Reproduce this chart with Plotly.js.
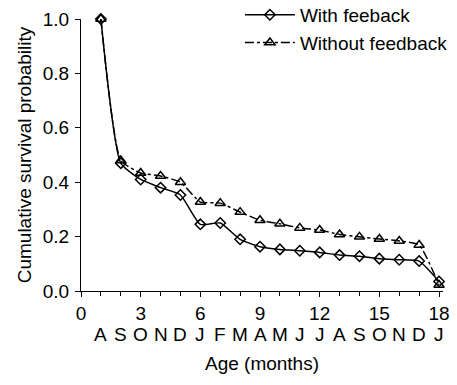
<!DOCTYPE html>
<html>
<head>
<meta charset="utf-8">
<script src="https://cdn.plot.ly/plotly-3.0.1.min.js"></script>
<style>html,body{margin:0;padding:0;background:#fff;}#chart{width:457px;height:385px;}</style>
</head>
<body>
<div id="chart"></div>
<script>
const ages = [1,2,3,4,5,6,7,8,9,10,11,12,13,14,15,16,17,18];
const withFeedback = [1.0,0.47,0.41,0.38,0.353,0.245,0.25,0.19,0.163,0.153,0.148,0.142,0.132,0.128,0.119,0.115,0.11,0.035];
const withoutFeedback = [1.0,0.48,0.434,0.423,0.40,0.327,0.323,0.29,0.26,0.247,0.232,0.224,0.208,0.199,0.191,0.184,0.169,0.022];
const ageTicks = [0,3,6,9,12,15,18];
const monthLetters = ["A","S","O","N","D","J","F","M","A","M","J","J","A","S","O","N","D","J"];
const yTicks = [0,0.2,0.4,0.6,0.8,1.0];

const font = {family: 'Liberation Sans, Arial, sans-serif', size: 19, color: '#000'};

const traces = [
  {x: ages, y: withFeedback, name: 'With feeback', mode: 'lines+markers',
   line: {color: '#000', width: 1.5, shape: 'spline', smoothing: 0.5},
   marker: {symbol: 'diamond-open', size: 8, color: '#000', line: {width: 1.5}},
   cliponaxis: false},
  {x: ages, y: withoutFeedback, name: 'Without feedback', mode: 'lines+markers',
   line: {color: '#000', width: 1.5, dash: 'dashdot', shape: 'spline', smoothing: 0.5},
   marker: {symbol: 'triangle-up-open', size: 9, color: '#000', line: {width: 1.5}},
   cliponaxis: false}
];

const monthAnnotations = ages.map((a, i) => ({
  x: a, xref: 'x', y: -0.16, yref: 'paper', yanchor: 'middle', xanchor: 'center',
  text: monthLetters[i], showarrow: false, font: font
}));

const layout = {
  width: 457, height: 385,
  margin: {l: 81, r: 14, t: 19, b: 94, autoexpand: false},
  paper_bgcolor: '#fff', plot_bgcolor: '#fff',
  font: font,
  showlegend: true,
  legend: {x: 0.439, y: 1.085, xanchor: 'left', yanchor: 'top',
           font: {family: font.family, size: 19, color: '#000'},
           bgcolor: 'rgba(0,0,0,0)', itemwidth: 50, tracegroupgap: 0},
  annotations: monthAnnotations,
  xaxis: {range: [0, 18.2], tickvals: ageTicks, ticktext: ageTicks.map(String),
          showline: true, linecolor: '#000', linewidth: 1, showgrid: false, zeroline: false,
          ticks: 'outside', ticklen: 5, tickcolor: '#000',
          minor: {dtick: 1, tick0: 0, ticks: 'outside', ticklen: 4, tickcolor: '#000', showgrid: false},
          tickfont: font, ticklabelstandoff: 0,
          title: {text: 'Age (months)', font: font, standoff: 33}},
  yaxis: {range: [0, 1.0], tickvals: yTicks, ticktext: yTicks.map(v => v.toFixed(1)),
          showline: true, linecolor: '#000', linewidth: 1, showgrid: false, zeroline: false,
          ticks: 'outside', ticklen: 5, tickcolor: '#000', tickfont: font, ticklabelstandoff: 2,
          title: {text: 'Cumulative survival probability', font: font, standoff: 6}}
};

Plotly.newPlot('chart', traces, layout, {displayModeBar: false, staticPlot: true});
</script>
</body>
</html>
